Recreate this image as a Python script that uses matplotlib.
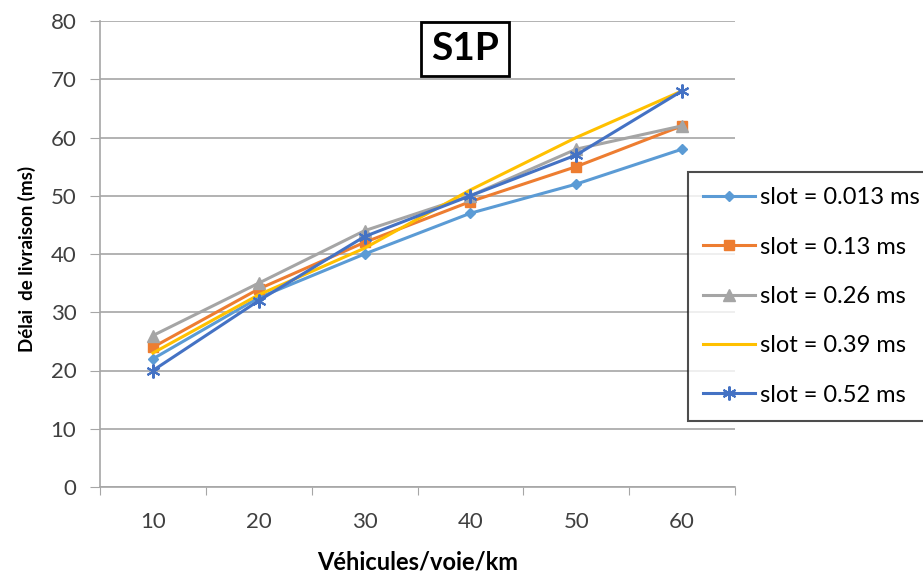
import matplotlib
matplotlib.use("Agg")
import matplotlib.pyplot as plt
import numpy as np

plt.rcParams['font.family'] = ['Lato', 'DejaVu Sans']

categories = ["10", "20", "30", "40", "50", "60"]
labels = ["slot = 0.013 ms", "slot = 0.13 ms", "slot = 0.26 ms", "slot = 0.39 ms", "slot = 0.52 ms"]
s_0013 = [22, 32.5, 40, 47, 52, 58]
s_013 = [24, 34, 42, 49, 55, 62]
s_026 = [26, 35, 44, 50, 58, 62]
s_039 = [23, 33, 41, 51, 60, 68]
s_052 = [20, 32, 43, 50, 57, 68]
series = [s_0013, s_013, s_026, s_039, s_052]
yticks = [0, 10, 20, 30, 40, 50, 60, 70, 80]

colors = ["#5B9BD5", "#ED7D31", "#A5A5A5", "#FFC000", "#4472C4"]
markers = ["D", "s", "^", None, (6, 2, 0)]
msizes = [5, 7, 8, 0, 10]

fig = plt.figure(figsize=(9.23, 5.76), dpi=100)
ax = fig.add_axes([100/923, 1-487/576, 635/923, (487-21)/576])

x = np.arange(len(categories))
handles = []
for vals, c, m, ms, lab in zip(series, colors, markers, msizes, labels):
    h, = ax.plot(x, vals, color=c, lw=2.2, marker=m, markersize=ms,
                 markeredgewidth=1.5 if m == (6, 2, 0) else 1,
                 markeredgecolor=c, markerfacecolor=c, label=lab, zorder=3)
    handles.append(h)

ax.set_ylim(0, 80)
ax.set_xlim(-0.5, len(categories) - 0.5)
ax.set_yticks(yticks)
ax.set_yticklabels([str(v) for v in yticks], fontsize=16, color="#404040")
ax.yaxis.grid(True, color="#A6A6A6", lw=1.2)
ax.set_axisbelow(True)

ax.set_xticks(np.arange(-0.5, len(categories)), minor=False)
ax.set_xticklabels([])
ax.set_xticks(x, minor=True)
ax.set_xticklabels(categories, minor=True, fontsize=16, color="#404040")
ax.tick_params(axis='x', which='major', length=6, color="#A6A6A6", direction='out')
ax.tick_params(axis='x', which='minor', length=0, pad=18)
ax.tick_params(axis='y', length=7, color="#A6A6A6", pad=10)

for s in ["top", "right"]:
    ax.spines[s].set_visible(False)
for s in ["left", "bottom"]:
    ax.spines[s].set_color("#A6A6A6")
    ax.spines[s].set_linewidth(1.2)

ax.set_xlabel("Véhicules/voie/km", fontsize=17, fontweight='bold', labelpad=13)
ax.set_ylabel("Délai  de livraison (ms)", fontsize=13.5, fontweight='bold')
ax.yaxis.set_label_coords((36-100)/635, 0.49)

fig.text(465/923, 1-49/576, "S1P", fontsize=28, fontweight='bold', ha='center', va='center',
         bbox=dict(boxstyle='square,pad=0.25', facecolor='white', edgecolor='black', lw=2))

leg = fig.legend(handles=handles, loc='upper left', bbox_to_anchor=(688/923, 1-172/576),
                 bbox_transform=fig.transFigure, fontsize=17, frameon=True, fancybox=False,
                 edgecolor='#202020', labelspacing=1.2, handlelength=2.2, handletextpad=0.2,
                 borderpad=0.65, borderaxespad=0)
leg.get_frame().set_linewidth(1.5)

fig.savefig("out.png", dpi=100, facecolor='white')
